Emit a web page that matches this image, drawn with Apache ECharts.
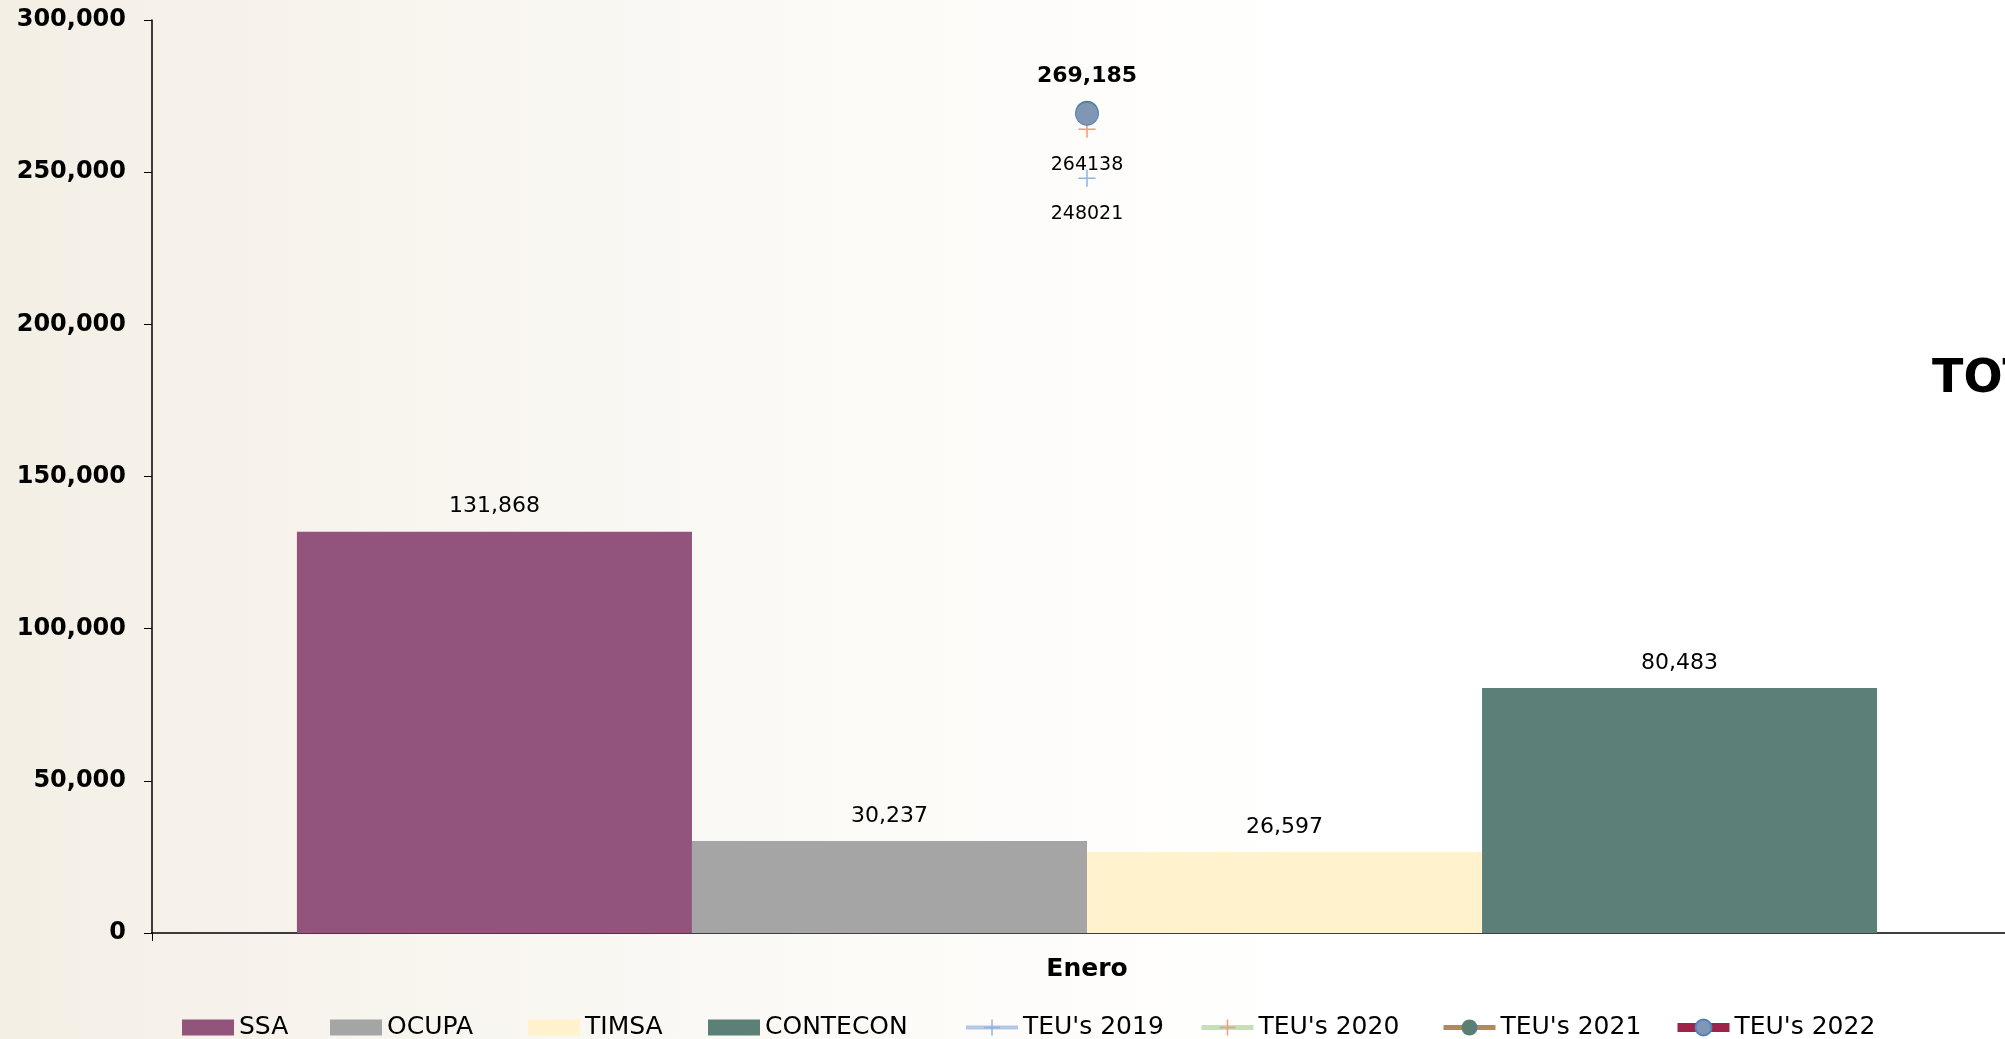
<!DOCTYPE html>
<html>
<head>
<meta charset="utf-8">
<script src="https://cdn.jsdelivr.net/npm/echarts@6/dist/echarts.min.js"></script>
<style>
html,body{margin:0;padding:0;background:#fff;}
#chart{width:2005px;height:1039px;}
</style>
</head>
<body>
<div id="chart"></div>
<script>
const categories = ['Enero'];
const ssa = [131868];
const ocupa = [30237];
const timsa = [26597];
const contecon = [80483];
const teu2019 = [248021];
const teu2020 = [264138];
const teu2021 = [269700];
const teu2022 = [269185];
const yTicks = [0, 50000, 100000, 150000, 200000, 250000, 300000];
const legendNames = ['SSA', 'OCUPA', 'TIMSA', 'CONTECON', "TEU's 2019", "TEU's 2020", "TEU's 2021", "TEU's 2022"];

const FONT = "'DejaVu Sans', sans-serif";
const fmt = v => v.toLocaleString('en-US');
const crossPath = 'path://M0,9.1H20V10.9H0Z M9.1,0H10.9V20H9.1Z';
// legend rect icon: 52x16 box inside a 52x20 frame (invisible slivers keep the frame)
const rectIcon = 'path://M0,0H52V0.01H0Z M0,2H52V18H0Z M0,19.99H52V20H0Z';
// layout: left edge of each legend entry
const legendLeft = [182, 330, 528, 708, 964, 1199, 1441, 1673];
const legendLineWidth = [0, 0, 0, 0, 4, 5, 5, 9];

const chart = echarts.init(document.getElementById('chart'));

function barSeries(name, data, color) {
  return {
    name, type: 'bar', data,
    barGap: '0%', barCategoryGap: '15.5%',
    itemStyle: { color },
    label: { show: true, position: 'top', distance: 14, color: '#000',
      fontFamily: FONT, fontSize: 22, formatter: p => fmt(p.value) }
  };
}

const legends = legendNames.map((name, i) => ({
  left: legendLeft[i], top: 1015,
  itemWidth: 52, itemHeight: 20, padding: 0,
  textStyle: { fontFamily: FONT, fontSize: 25, color: '#000' },
  data: [i < 4 ? { name, icon: rectIcon } : { name, lineStyle: { width: legendLineWidth[i] } }]
}));

chart.setOption({
  backgroundColor: {
    type: 'linear', x: 0, y: 0, x2: 1, y2: 0,
    colorStops: [
      { offset: 0, color: '#F4EFE5' },
      { offset: 0.2, color: '#F8F5EF' },
      { offset: 0.45, color: '#FCFBF8' },
      { offset: 0.65, color: '#FFFFFF' },
      { offset: 1, color: '#FFFFFF' }
    ]
  },
  animation: false,
  grid: { left: 152, width: 1870, top: 20, bottom: 106, containLabel: false, outerBoundsMode: 'none' },
  legend: legends,
  xAxis: {
    type: 'category', data: categories,
    axisLine: { lineStyle: { color: '#000', width: 1.5 } },
    axisTick: { show: true, length: 8, lineStyle: { color: '#000' } },
    axisLabel: { margin: 24, color: '#000', fontFamily: FONT, fontWeight: 'bold', fontSize: 25 }
  },
  yAxis: {
    type: 'value', min: yTicks[0], max: yTicks[yTicks.length - 1], interval: yTicks[1] - yTicks[0],
    splitLine: { show: false },
    axisLine: { show: true, lineStyle: { color: '#000', width: 1.5 } },
    axisTick: { show: true, length: 8, lineStyle: { color: '#000' } },
    axisLabel: { margin: 26, color: '#000', fontFamily: FONT, fontWeight: 'bold', fontSize: 24,
      formatter: v => fmt(v) }
  },
  graphic: [{
    type: 'text', left: 1932, top: 357,
    style: { text: 'TOTAL', fontFamily: FONT, fontWeight: 'bold', fontSize: 46, fill: '#000' }
  }],
  series: [
    barSeries('SSA', ssa, '#92547C'),
    barSeries('OCUPA', ocupa, '#A5A5A5'),
    barSeries('TIMSA', timsa, '#FFF2CC'),
    barSeries('CONTECON', contecon, '#5C8078'),
    {
      name: "TEU's 2019", type: 'line', data: teu2019,
      symbol: crossPath, symbolSize: 17,
      itemStyle: { color: '#8FB3E0' },
      lineStyle: { color: '#B4C7E7', width: 4 },
      label: { show: true, position: 'bottom', distance: 18, color: '#000', fontFamily: FONT, fontSize: 19 }
    },
    {
      name: "TEU's 2020", type: 'line', data: teu2020,
      symbol: crossPath, symbolSize: 17,
      itemStyle: { color: '#F39A76' },
      lineStyle: { color: '#C5E0B4', width: 5 },
      label: { show: true, position: 'bottom', distance: 18, color: '#000', fontFamily: FONT, fontSize: 19 }
    },
    {
      name: "TEU's 2021", type: 'line', data: teu2021,
      symbol: 'circle', symbolSize: 23,
      itemStyle: { color: '#5B7F72' },
      lineStyle: { color: '#B08B59', width: 5 }
    },
    {
      name: "TEU's 2022", type: 'line', data: teu2022,
      symbol: 'circle', symbolSize: 23,
      itemStyle: { color: '#7F96B4', borderColor: '#4F81BD', borderWidth: 1 },
      lineStyle: { color: '#9E2349', width: 9 },
      label: { show: true, position: 'top', distance: 14, color: '#000', fontFamily: FONT,
        fontWeight: 'bold', fontSize: 22, formatter: p => fmt(p.value) }
    }
  ]
});
</script>
</body>
</html>
